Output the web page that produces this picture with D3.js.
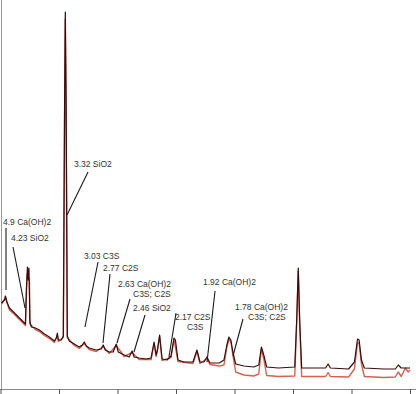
<!DOCTYPE html>
<html><head><meta charset="utf-8">
<script src="https://cdn.jsdelivr.net/npm/d3@7"></script>
<style>
html,body{margin:0;padding:0;background:#fff;}
svg{display:block;}
text{font-family:"Liberation Sans",Arial,sans-serif;}
</style></head>
<body><svg id="c" width="416" height="394"></svg>
<script>
// 2-theta (deg) tick values of the x axis (labels are not shown in the reference)
const xTicks = [10, 20, 30, 40, 50, 60, 70, 80];

// Pattern 1 (dark trace): [2theta, counts]
const patternDark = [
 [10.17,860],[10.68,890],[10.85,930],[11.1,870],[11.53,810],[12.39,760],[13.24,710],[13.92,670],
 [14.26,650],[14.43,990],[14.6,1220],[14.74,1090],[14.86,1210],[15.03,670],[15.28,620],[15.97,610],
 [16.65,590],[17.5,550],[18.35,520],[19.21,480],[19.55,510],[19.72,560],[19.89,490],[20.4,490],
 [20.74,530],[20.96,2890],[21.08,3770],[21.22,2890],[21.42,530],[21.76,480],[22.6,450],[23.47,420],
 [23.98,440],[24.32,470],[24.66,430],[25.17,410],[26.37,390],[27.22,400],[27.56,440],[27.9,390],
 [28.58,370],[29.26,370],[29.78,450],[30.12,370],[31.14,340],[32.0,320],[32.5,380],[32.84,320],
 [33.7,310],[34.9,300],[35.74,310],[36.25,470],[36.6,340],[36.85,390],[37.2,540],[37.62,300],
 [38.47,290],[39.15,330],[39.66,510],[39.9,490],[40.34,290],[41.37,270],[42.9,270],[43.58,390],
 [44.1,270],[44.78,270],[45.29,320],[45.8,260],[47.4,260],[48.2,290],[48.7,440],[49.04,520],
 [49.38,490],[49.72,370],[50.2,250],[51.6,230],[53.3,220],[54.15,240],[54.6,420],[55.0,340],
 [55.5,220],[57.5,210],[60.3,220],[60.63,690],[60.9,1210],[61.14,690],[61.48,210],[63.5,210],
 [65.57,210],[66.0,250],[66.4,210],[69.5,200],[70.5,270],[71.03,500],[71.3,490],[71.7,290],
 [72.2,210],[75.5,200],[77.5,200],[78.0,240],[78.5,210],[80.0,210]
];

// Pattern 2 (red trace): [2theta, counts]
const patternRed = [
 [10.17,850],[10.85,910],[11.53,790],[12.39,745],[13.24,695],[13.92,655],[14.26,635],[14.5,1100],
 [14.55,1150],[14.95,1100],[15.03,650],[15.97,595],[16.65,575],[17.5,535],[18.35,505],[19.21,465],
 [19.72,540],[19.89,475],[20.74,515],[20.94,2600],[21.06,3700],[21.22,2600],[21.42,515],[22.6,435],
 [23.47,405],[24.32,455],[25.17,395],[26.37,375],[27.56,425],[28.58,355],[29.78,435],[31.14,325],
 [32.5,365],[33.7,295],[35.74,295],[36.25,455],[36.6,325],[37.2,525],[37.62,285],[39.15,315],
 [39.66,495],[40.34,275],[42.9,255],[43.58,375],[44.1,255],[45.29,305],[45.8,245],[47.4,230],
 [48.2,240],[48.7,420],[49.04,500],[49.38,470],[49.72,340],[50.2,170],[51.6,140],[53.3,130],
 [54.15,150],[54.6,400],[55.0,300],[55.5,135],[57.5,125],[60.3,130],[60.63,650],[60.9,1180],
 [61.14,650],[61.48,125],[63.5,125],[65.57,125],[66.0,165],[66.4,125],[69.5,120],[70.5,200],
 [71.03,460],[71.3,460],[71.7,250],[72.2,125],[75.5,115],[77.5,120],[78.0,170],[78.5,125],
 [79.2,210],[79.7,170],[80.0,190]
];

// Peak annotations (text lines)
const annTexts = [
 ["4.9 Ca(OH)2"],
 ["4.23 SiO2"],
 ["3.32 SiO2"],
 ["3.03 C3S"],
 ["2.77 C2S"],
 ["2.63 Ca(OH)2", "C3S; C2S"],
 ["2.46 SiO2"],
 ["2.17 C2S", "C3S"],
 ["1.92 Ca(OH)2"],
 ["1.78 Ca(OH)2", "C3S; C2S"]
];
// Annotation layout in data coordinates: text line anchors and leader start/end
const annLayout = [
 {lines:[[10.43,1640]], from:[10.94,1610], to:[10.94,990]},
 {lines:[[11.79,1480]], from:[12.14,1420], to:[14.19,810]},
 {lines:[[22.56,2220]], from:[24.96,2170], to:[21.37,1740]},
 {lines:[[24.27,1300]], from:[26.67,1270], to:[24.44,620]},
 {lines:[[27.52,1180]], from:[28.72,1150], to:[27.52,460]},
 {lines:[[30.09,1020],[32.65,920]], from:[32.14,900], to:[29.91,460]},
 {lines:[[32.65,780]], from:[34.70,740], to:[32.82,370]},
 {lines:[[39.83,690],[41.88,590]], from:[40.0,760], to:[38.8,320]},
 {lines:[[44.62,1040]], from:[46.67,980], to:[45.3,270]},
 {lines:[[50.09,790],[52.31,690]], from:[51.45,700], to:[49.74,330]}
];

const W = 416, H = 394;
const svg = d3.select("#c");
const x = d3.scaleLinear().domain([10, 80]).range([0.5, 410]);
const y = d3.scaleLinear().domain([0, 3890]).range([389, 0]);

// axes
svg.append("g").attr("transform","translate(0,389)")
  .call(d3.axisBottom(x).tickValues(xTicks).tickFormat("").tickSize(6).tickSizeOuter(0))
  .call(g=>{g.select(".domain").attr("stroke","#8a8a8a").attr("d","M0,0.5H416");
            g.selectAll(".tick line").attr("stroke","#555");});
svg.append("g").attr("transform","translate(1.5,0)")
  .call(d3.axisLeft(y).tickValues([]).tickSizeOuter(0))
  .call(g=>g.select(".domain").attr("stroke","#9a9a9a").attr("d","M0,0V389"));

const line = d3.line().x(d=>x(d[0])).y(d=>y(d[1]));

svg.append("path").datum(patternRed).attr("d",line)
  .attr("fill","none").attr("stroke","#d0452e").attr("stroke-width",1.4)
  .attr("stroke-opacity",0.85).attr("stroke-linejoin","round");
svg.append("path").datum(patternDark).attr("d",line)
  .attr("fill","none").attr("stroke","#3a0b0b").attr("stroke-width",1.2)
  .attr("stroke-linejoin","round");

// annotations
annLayout.forEach((a,i)=>{
  svg.append("line")
    .attr("x1",x(a.from[0])).attr("y1",y(a.from[1]))
    .attr("x2",x(a.to[0])).attr("y2",y(a.to[1]))
    .attr("stroke","#1a1a1a").attr("stroke-width",1.1);
  a.lines.forEach((p,j)=>{
    svg.append("text").attr("x",x(p[0])).attr("y",y(p[1]))
      .attr("font-size","8.5px").attr("fill","#333")
      .text(annTexts[i][j]);
  });
});
</script></body></html>
